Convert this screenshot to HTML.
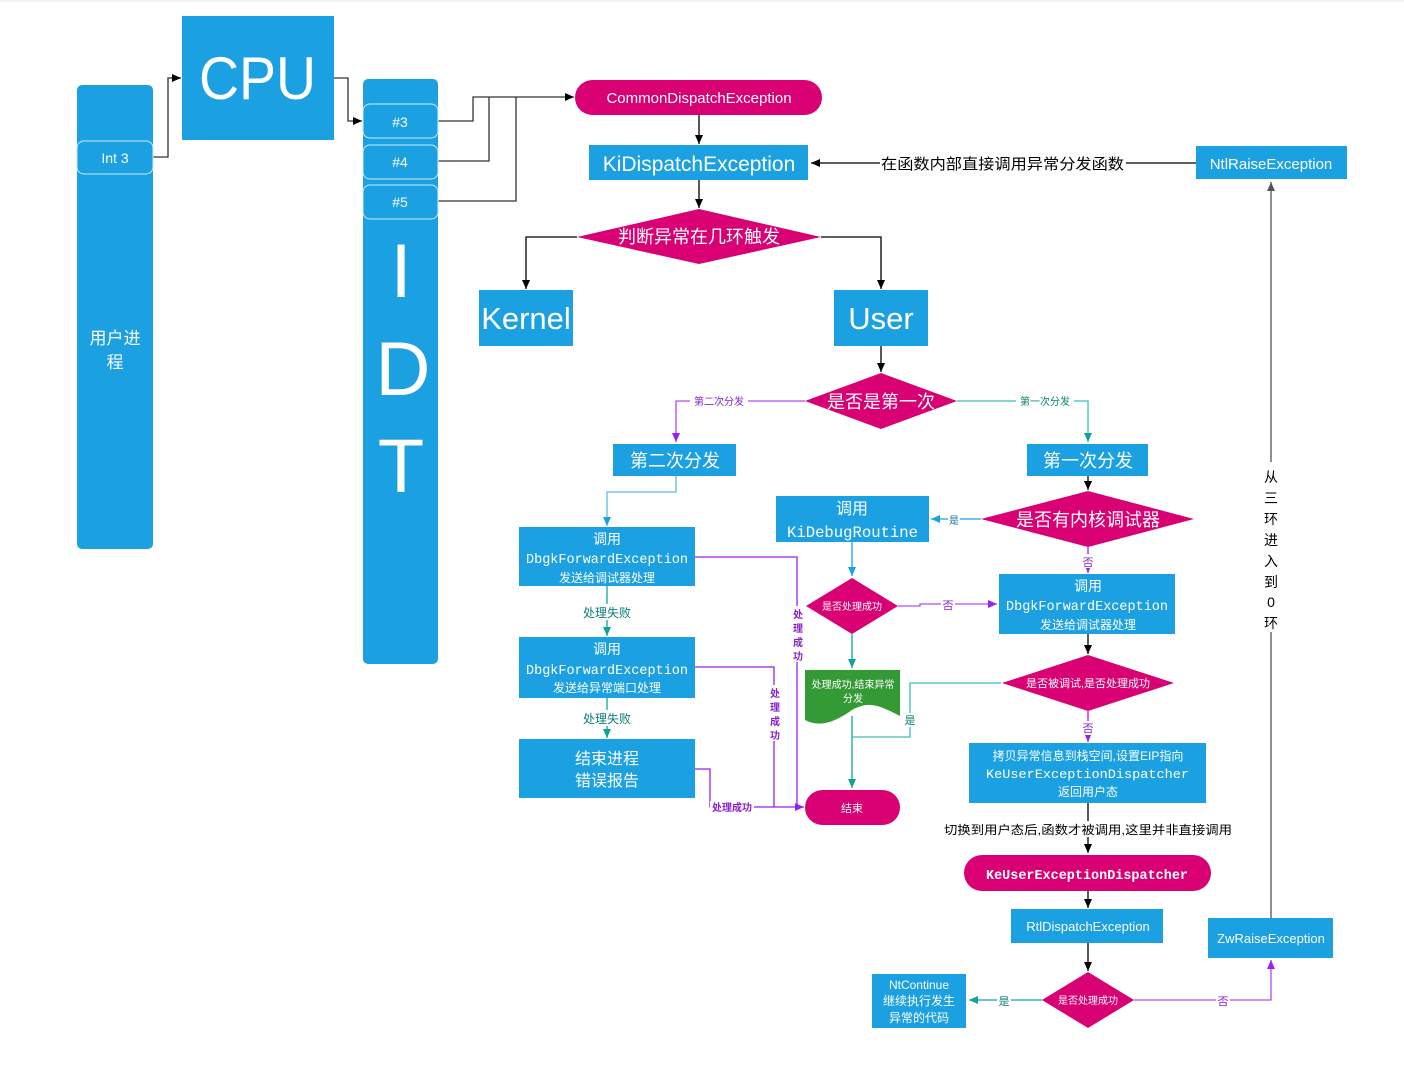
<!DOCTYPE html>
<html><head><meta charset="utf-8"><style>
html,body{margin:0;padding:0;background:#fff;}
svg{display:block;}
text{font-family:"Liberation Sans","Noto Sans CJK SC",sans-serif;}
.w{fill:#fff;}
.m{font-family:"Liberation Mono","Noto Sans CJK SC",monospace;}
</style></head><body>
<svg width="1404" height="1067" viewBox="0 0 1404 1067" xmlns="http://www.w3.org/2000/svg">
<defs>
<marker id="ab" markerWidth="10" markerHeight="10" refX="9" refY="5" orient="auto" markerUnits="userSpaceOnUse"><path d="M0,1 L9,5 L0,9z" fill="#000"/></marker>
<marker id="ap" markerWidth="10" markerHeight="10" refX="9" refY="5" orient="auto" markerUnits="userSpaceOnUse"><path d="M0,1 L9,5 L0,9z" fill="#9b1ff0"/></marker>
<marker id="at" markerWidth="10" markerHeight="10" refX="9" refY="5" orient="auto" markerUnits="userSpaceOnUse"><path d="M0,1 L9,5 L0,9z" fill="#10a39a"/></marker>
<marker id="al" markerWidth="10" markerHeight="10" refX="9" refY="5" orient="auto" markerUnits="userSpaceOnUse"><path d="M0,1 L9,5 L0,9z" fill="#1ba1e2"/></marker>
<marker id="ag" markerWidth="10" markerHeight="10" refX="9" refY="5" orient="auto" markerUnits="userSpaceOnUse"><path d="M0,1 L9,5 L0,9z" fill="#555"/></marker>
</defs>
<line x1="0" y1="1" x2="1404" y2="1" stroke="#e8e8e8"/>
<g fill="none" stroke-width="1.3">
<path d="M153,157 H168 V78 H181" stroke="#333" marker-end="url(#ab)"/>
<path d="M334,78 H348 V121 H362" stroke="#333" marker-end="url(#ab)"/>
<path d="M438,121 H473 V97 H574" stroke="#333" marker-end="url(#ab)"/>
<path d="M438,161 H489 V97" stroke="#333"/>
<path d="M438,201 H516 V97" stroke="#333"/>
<path d="M699,115 V144" stroke="#000" marker-end="url(#ab)"/>
<path d="M1196,163 H811" stroke="#000" marker-end="url(#ab)"/>
<path d="M699,180 V208" stroke="#000" marker-end="url(#ab)"/>
<path d="M577,237 H526 V289" stroke="#000" marker-end="url(#ab)"/>
<path d="M821,237 H881 V289" stroke="#000" marker-end="url(#ab)"/>
<path d="M881,346 V372" stroke="#000" marker-end="url(#ab)"/>
<path d="M805,401 H676 V442" stroke="#b04cf5" marker-end="url(#ap)"/>
<path d="M957,401 H1088 V442" stroke="#3fbfb6" marker-end="url(#at)"/>
<path d="M676,476 V492 H607 V526" stroke="#5bbbe6" marker-end="url(#al)"/>
<path d="M607,586 V636" stroke="#10a39a" marker-end="url(#at)"/>
<path d="M607,698 V738" stroke="#10a39a" marker-end="url(#at)"/>
<path d="M695,557 H797 V807" stroke="#9b1ff0"/>
<path d="M695,667 H774 V807" stroke="#9b1ff0"/>
<path d="M695,769 H710 V807 H804" stroke="#9b1ff0" marker-end="url(#ap)"/>
<path d="M1088,476 V490" stroke="#000" marker-end="url(#ab)"/>
<path d="M981,519 H931" stroke="#1ba1e2" marker-end="url(#al)"/>
<path d="M852,542 V576" stroke="#1ba1e2" marker-end="url(#al)"/>
<path d="M898,606 H920 V604 H997" stroke="#b04cf5" marker-end="url(#ap)"/>
<path d="M852,634 V668" stroke="#10a39a" marker-end="url(#at)"/>
<path d="M852,716 V788" stroke="#10a39a" marker-end="url(#at)"/>
<path d="M1001,683 H910 V737 H852" stroke="#3fbfb6"/>
<path d="M1088,547 V573" stroke="#9b1ff0" marker-end="url(#ap)"/>
<path d="M1088,634 V654" stroke="#000" marker-end="url(#ab)"/>
<path d="M1088,711 V742" stroke="#9b1ff0" marker-end="url(#ap)"/>
<path d="M1088,803 V853" stroke="#000" marker-end="url(#ab)"/>
<path d="M1088,891 V908" stroke="#000" marker-end="url(#ab)"/>
<path d="M1088,943 V971" stroke="#000" marker-end="url(#ab)"/>
<path d="M1042,1000 H969" stroke="#10a39a" marker-end="url(#at)"/>
<path d="M1134,1000 H1271 V960" stroke="#b04cf5" marker-end="url(#ap)"/>
<path d="M1271,918 V182" stroke="#555" marker-end="url(#ag)"/>
</g>
<rect x="77" y="85" width="76" height="464" rx="5" fill="#1ba1e2"/>
<rect x="77" y="141" width="76" height="33" rx="7" fill="#1ba1e2" stroke="#cfeaf8"/>
<text x="115" y="163" class="w" font-size="14" text-anchor="middle">Int 3</text>
<text x="115" y="344" class="w" font-size="17" text-anchor="middle">用户进</text>
<text x="115" y="368" class="w" font-size="17" text-anchor="middle">程</text>
<rect x="182" y="16" width="152" height="124" fill="#1ba1e2"/>
<text x="199" y="99" class="w" font-size="60" textLength="117" lengthAdjust="spacingAndGlyphs">CPU</text>
<rect x="363" y="79" width="75" height="585" rx="5" fill="#1ba1e2"/>
<rect x="363" y="104" width="75" height="34" rx="7" fill="#1ba1e2" stroke="#cfeaf8"/>
<rect x="363" y="145" width="75" height="34" rx="7" fill="#1ba1e2" stroke="#cfeaf8"/>
<rect x="363" y="185" width="75" height="34" rx="7" fill="#1ba1e2" stroke="#cfeaf8"/>
<text x="400" y="127" class="w" font-size="14" text-anchor="middle">#3</text>
<text x="400" y="167" class="w" font-size="14" text-anchor="middle">#4</text>
<text x="400" y="207" class="w" font-size="14" text-anchor="middle">#5</text>
<text x="401" y="297" class="w" font-size="76" text-anchor="middle">I</text>
<text x="403" y="395" class="w" font-size="76" text-anchor="middle">D</text>
<text x="401" y="492" class="w" font-size="76" text-anchor="middle">T</text>
<rect x="575" y="80" width="247" height="35" rx="17.5" fill="#d80073"/>
<text x="699" y="103" class="w" font-size="15" text-anchor="middle">CommonDispatchException</text>
<rect x="589" y="145" width="219" height="35" fill="#1ba1e2"/>
<text x="699" y="171" class="w" font-size="21" text-anchor="middle">KiDispatchException</text>
<rect x="1196" y="146" width="151" height="33" fill="#1ba1e2"/>
<text x="1271" y="169" class="w" font-size="15" text-anchor="middle">NtlRaiseException</text>
<rect x="880" y="153" width="246" height="20" fill="#fff"/>
<text x="881" y="169" font-size="15" fill="#000" textLength="243" lengthAdjust="spacingAndGlyphs">在函数内部直接调用异常分发函数</text>
<polygon points="577,237 699,209 821,237 699,264" fill="#d80073"/>
<text x="699" y="243" class="w" font-size="18" text-anchor="middle">判断异常在几环触发</text>
<rect x="479" y="290" width="94" height="56" fill="#1ba1e2"/>
<text x="526" y="329" class="w" font-size="31" text-anchor="middle">Kernel</text>
<rect x="834" y="290" width="94" height="56" fill="#1ba1e2"/>
<text x="881" y="329" class="w" font-size="31" text-anchor="middle">User</text>
<polygon points="805,401 881,373 957,401 881,429" fill="#d80073"/>
<text x="881" y="408" class="w" font-size="18" text-anchor="middle">是否是第一次</text>
<rect x="690" y="394" width="58" height="14" fill="#fff"/>
<text x="719" y="405" font-size="10" fill="#8a1fd0" text-anchor="middle">第二次分发</text>
<rect x="1016" y="394" width="58" height="14" fill="#fff"/>
<text x="1045" y="405" font-size="10" fill="#0a7f78" text-anchor="middle">第一次分发</text>
<rect x="613" y="444" width="123" height="32" fill="#1ba1e2"/>
<text x="675" y="467" class="w" font-size="18" text-anchor="middle">第二次分发</text>
<rect x="1027" y="444" width="121" height="32" fill="#1ba1e2"/>
<text x="1088" y="467" class="w" font-size="18" text-anchor="middle">第一次分发</text>
<rect x="519" y="527" width="176" height="59" fill="#1ba1e2"/>
<text x="607" y="544" class="w" font-size="14" text-anchor="middle">调用</text>
<text x="526" y="563" class="w m" font-size="14" textLength="162" lengthAdjust="spacingAndGlyphs">DbgkForwardException</text>
<text x="607" y="582" class="w" font-size="12" text-anchor="middle">发送给调试器处理</text>
<rect x="578" y="604" width="58" height="16" fill="#fff"/>
<text x="607" y="617" font-size="12" fill="#0a7f78" text-anchor="middle">处理失败</text>
<rect x="519" y="637" width="176" height="61" fill="#1ba1e2"/>
<text x="607" y="654" class="w" font-size="14" text-anchor="middle">调用</text>
<text x="526" y="674" class="w m" font-size="14" textLength="162" lengthAdjust="spacingAndGlyphs">DbgkForwardException</text>
<text x="607" y="692" class="w" font-size="12" text-anchor="middle">发送给异常端口处理</text>
<rect x="578" y="710" width="58" height="16" fill="#fff"/>
<text x="607" y="723" font-size="12" fill="#0a7f78" text-anchor="middle">处理失败</text>
<rect x="519" y="739" width="176" height="59" fill="#1ba1e2"/>
<text x="607" y="764" class="w" font-size="16" text-anchor="middle">结束进程</text>
<text x="607" y="786" class="w" font-size="16" text-anchor="middle">错误报告</text>
<rect x="791" y="606" width="14" height="56" fill="#fff"/>
<g font-size="10" fill="#8a1fd0" text-anchor="middle" font-weight="bold">
<text x="798" y="618">处</text><text x="798" y="632">理</text><text x="798" y="646">成</text><text x="798" y="660">功</text>
</g>
<rect x="768" y="685" width="14" height="56" fill="#fff"/>
<g font-size="10" fill="#8a1fd0" text-anchor="middle" font-weight="bold">
<text x="775" y="697">处</text><text x="775" y="711">理</text><text x="775" y="725">成</text><text x="775" y="739">功</text>
</g>
<rect x="710" y="801" width="44" height="13" fill="#fff"/>
<text x="732" y="811" font-size="10" fill="#8a1fd0" text-anchor="middle" font-weight="bold">处理成功</text>
<rect x="805" y="790" width="95" height="35" rx="17.5" fill="#d80073"/>
<text x="852" y="812" class="w" font-size="11" text-anchor="middle">结束</text>
<rect x="776" y="496" width="153" height="46" fill="#1ba1e2"/>
<text x="852" y="514" class="w" font-size="16" text-anchor="middle">调用</text>
<text x="787" y="537" class="w m" font-size="16" textLength="131" lengthAdjust="spacingAndGlyphs">KiDebugRoutine</text>
<polygon points="981,519 1088,491 1194,519 1088,547" fill="#d80073"/>
<text x="1088" y="526" class="w" font-size="18" text-anchor="middle">是否有内核调试器</text>
<rect x="948" y="513" width="12" height="13" fill="#fff"/>
<text x="954" y="524" font-size="10" fill="#1a6fa0" text-anchor="middle">是</text>
<polygon points="806,606 852,578 898,606 852,634" fill="#d80073"/>
<text x="852" y="610" class="w" font-size="10" text-anchor="middle">是否处理成功</text>
<rect x="941" y="597" width="14" height="14" fill="#fff"/>
<text x="948" y="609" font-size="11" fill="#8a1fd0" text-anchor="middle">否</text>
<path d="M805,670 H900 V716 C880,706 870,700 852,710 C835,722 820,728 805,720 Z" fill="#349a36"/>
<text x="853" y="688" class="w" font-size="10" text-anchor="middle">处理成功,结束异常</text>
<text x="853" y="702" class="w" font-size="10" text-anchor="middle">分发</text>
<rect x="903" y="713" width="14" height="14" fill="#fff"/>
<text x="910" y="724" font-size="11" fill="#0a7f78" text-anchor="middle">是</text>
<rect x="1081" y="554" width="14" height="14" fill="#fff"/>
<text x="1088" y="566" font-size="11" fill="#8a1fd0" text-anchor="middle">否</text>
<rect x="999" y="574" width="176" height="60" fill="#1ba1e2"/>
<text x="1088" y="591" class="w" font-size="14" text-anchor="middle">调用</text>
<text x="1006" y="610" class="w m" font-size="14" textLength="162" lengthAdjust="spacingAndGlyphs">DbgkForwardException</text>
<text x="1088" y="629" class="w" font-size="12" text-anchor="middle">发送给调试器处理</text>
<polygon points="1002,683 1088,655 1174,683 1088,711" fill="#d80073"/>
<text x="1088" y="687" class="w" font-size="11" text-anchor="middle">是否被调试,是否处理成功</text>
<rect x="1081" y="721" width="14" height="14" fill="#fff"/>
<text x="1088" y="732" font-size="11" fill="#8a1fd0" text-anchor="middle">否</text>
<rect x="969" y="743" width="237" height="60" fill="#1ba1e2"/>
<text x="1088" y="760" class="w" font-size="12" text-anchor="middle">拷贝异常信息到栈空间,设置EIP指向</text>
<text x="986" y="778" class="w m" font-size="13" textLength="203" lengthAdjust="spacingAndGlyphs">KeUserExceptionDispatcher</text>
<text x="1088" y="796" class="w" font-size="12" text-anchor="middle">返回用户态</text>
<rect x="942" y="821" width="292" height="16" fill="#fff"/>
<text x="944" y="834" font-size="12" fill="#000" textLength="288" lengthAdjust="spacingAndGlyphs">切换到用户态后,函数才被调用,这里并非直接调用</text>
<rect x="964" y="855" width="247" height="36" rx="18" fill="#d80073"/>
<text x="986" y="879" class="w m" font-size="14" font-weight="bold" textLength="202" lengthAdjust="spacingAndGlyphs">KeUserExceptionDispatcher</text>
<rect x="1011" y="909" width="152" height="34" fill="#1ba1e2"/>
<text x="1088" y="931" class="w" font-size="13" text-anchor="middle">RtlDispatchException</text>
<polygon points="1042,1000 1088,972 1134,1000 1088,1028" fill="#d80073"/>
<text x="1088" y="1004" class="w" font-size="10" text-anchor="middle">是否处理成功</text>
<rect x="997" y="993" width="14" height="14" fill="#fff"/>
<text x="1004" y="1005" font-size="11" fill="#0a7f78" text-anchor="middle">是</text>
<rect x="1216" y="993" width="14" height="14" fill="#fff"/>
<text x="1223" y="1005" font-size="11" fill="#8a1fd0" text-anchor="middle">否</text>
<rect x="872" y="974" width="94" height="54" fill="#1ba1e2"/>
<text x="919" y="989" class="w" font-size="12" text-anchor="middle">NtContinue</text>
<text x="919" y="1005" class="w" font-size="12" text-anchor="middle">继续执行发生</text>
<text x="919" y="1022" class="w" font-size="12" text-anchor="middle">异常的代码</text>
<rect x="1208" y="918" width="125" height="40" fill="#1ba1e2"/>
<text x="1271" y="943" class="w" font-size="13" text-anchor="middle">ZwRaiseException</text>
<rect x="1262" y="462" width="18" height="170" fill="#fff"/>
<g font-size="14" fill="#000" text-anchor="middle">
<text x="1271" y="482">从</text><text x="1271" y="503">三</text><text x="1271" y="524">环</text><text x="1271" y="545">进</text><text x="1271" y="566">入</text><text x="1271" y="587">到</text><text x="1271" y="607">0</text><text x="1271" y="628">环</text>
</g>
</svg>
</body></html>
